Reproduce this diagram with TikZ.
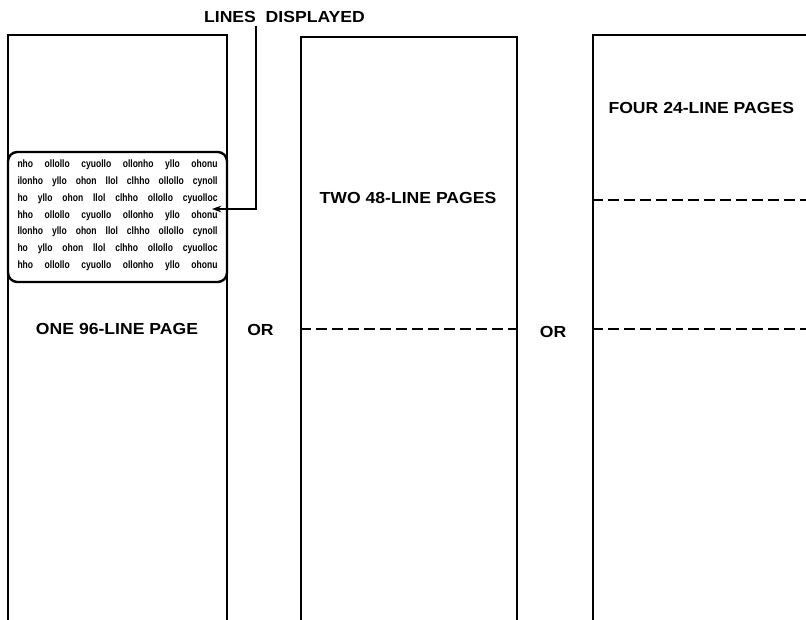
\documentclass[tikz,border=0pt]{standalone}
\usepackage{fontspec}
\usetikzlibrary{arrows.meta, positioning, fit}
\newfontfamily\capfont[FakeStretch=1.1]{Liberation Sans}
\newfontfamily\screenfont[FakeStretch=0.8]{Liberation Sans}

\begin{document}
\begin{tikzpicture}[x=0.75pt, y=-0.75pt, thick,
    page/.style={draw, rectangle, line width=1.6pt, inner sep=0pt},
    screen/.style={draw, rectangle, rounded corners=7pt, line width=1.8pt, inner sep=0pt},
    caption/.style={font=\capfont\bfseries\fontsize{12}{14}\selectfont, inner sep=0pt},
    scrline/.style={font=\screenfont\bfseries\fontsize{8}{9}\selectfont, inner sep=0pt},
    divider/.style={line width=1pt, dash pattern=on 8pt off 4pt}]
      \clip (0,0) rectangle (806,620);
      % the three pages
      \node[page, fit={(8,35) (227,630)}] (one) {};
      \node[page, fit={(301,37) (517,630)}] (two) {};
      \node[page, fit={(593,35) (840,630)}] (four) {};
      % lines on screen
      \node[screen, fit={(8,152) (227,282)}] (scr) {};
      \foreach \txt [count=\i] in {
          nho ollollo cyuollo ollonho yllo ohonu,
          ilonho yllo ohon llol clhho ollollo cynoll,
          ho yllo ohon llol clhho ollollo cyuolloc,
          hho ollollo cyuollo ollonho yllo ohonu,
          llonho yllo ohon llol clhho ollollo cynoll,
          ho yllo ohon llol clhho ollollo cyuolloc,
          hho ollollo cyuollo ollonho yllo ohonu}
        \node[scrline, anchor=base] (ln\i) at (117.5, 151+16.8*\i) {\makebox[150pt][s]{\txt}};
      % captions
      \node[caption, anchor=base] (lines) at (284.5,23) {LINES\ \ DISPLAYED};
      \node[caption, anchor=base] (p96) at (117,334) {ONE 96-LINE PAGE};
      \node[caption, anchor=base] (p48) at (408,204) {TWO 48-LINE PAGES};
      \node[caption, anchor=base west] (p24) at (608,114) {FOUR 24-LINE PAGES};
      \node[caption, anchor=base] (or1) at (260.5,335) {OR};
      \node[caption, anchor=base] (or2) at (553,337) {OR};
      % page breaks
      \draw[divider] (two.west |- 0,329) -- (two.east |- 0,329);
      \draw[divider] (four.west |- 0,200) -- (806,200);
      \draw[divider] (four.west |- 0,329) -- (806,329);
      % leader to the screen
      \coordinate (bend) at (256,209);
      \coordinate (tip) at (212,209);
      \draw[line width=0.8pt, -{Stealth[length=7pt, width=5pt]}] (bend |- lines.south) ++(0,2) -- (bend) -- (tip);
    \end{tikzpicture}
\end{document}
